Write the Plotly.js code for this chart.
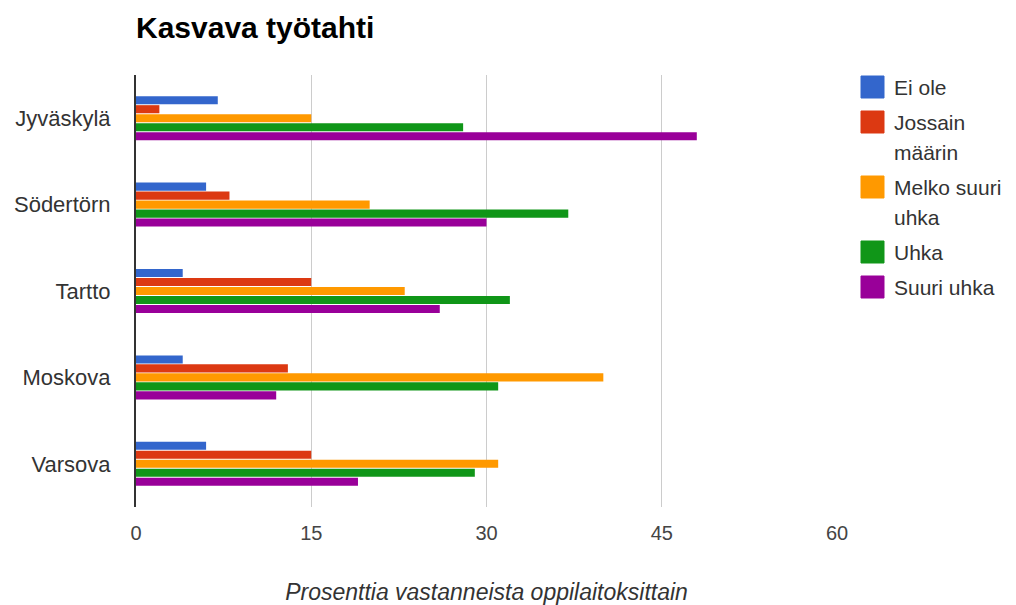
<!DOCTYPE html>
<html>
<head>
<meta charset="utf-8">
<script src="https://cdn.plot.ly/plotly-3.0.1.min.js"></script>
<style>
  body { margin: 0; background: #fff; }
  #chart { width: 1016px; height: 605px; }
</style>
</head>
<body>
<div id="chart"></div>
<script>
const cities = ['Jyväskylä', 'Södertörn', 'Tartto', 'Moskova', 'Varsova']
const seriesNames = ['Ei ole', 'Jossain määrin', 'Melko suuri uhka', 'Uhka', 'Suuri uhka']
const legendLines = [['Ei ole'], ['Jossain', 'määrin'], ['Melko suuri', 'uhka'], ['Uhka'], ['Suuri uhka']]
const colors = ['#3366cc', '#dc3912', '#ff9900', '#109618', '#990099']

const eiOle = [7, 6, 4, 4, 6]
const jossainMaarin = [2, 8, 15, 13, 15]
const melkoSuuri = [15, 20, 23, 40, 31]
const uhka = [28, 37, 32, 31, 29]
const suuriUhka = [48, 30, 26, 12, 19]

const xTicks = [0, 15, 30, 45, 60]

const values = [eiOle, jossainMaarin, melkoSuuri, uhka, suuriUhka]

const W = 1016, H = 605
const M = { l: 136, r: 179, t: 75, b: 98 }
const plotW = W - M.l - M.r
const plotH = H - M.t - M.b
const px = x => (x - M.l) / plotW
const py = y => (H - M.b - y) / plotH

const data = values.map((vals, i) => ({
  type: 'bar',
  orientation: 'h',
  name: seriesNames[i],
  x: vals,
  y: cities,
  marker: { color: colors[i], line: { width: 0 } },
  hoverinfo: 'x+y+name',
  showlegend: false,
}))

// legend drawn by hand, so the swatches can be the big squares of the original
const shapes = []
const annotations = []
let lineY = 87
legendLines.forEach((lines, i) => {
  shapes.push({
    type: 'rect', xref: 'paper', yref: 'paper',
    x0: px(861), x1: px(884), y0: py(lineY - 11), y1: py(lineY + 11),
    fillcolor: colors[i], line: { width: 1, color: colors[i] },
  })
  lines.forEach((txt, j) => {
    annotations.push({
      xref: 'paper', yref: 'paper', x: px(892), y: py(lineY + j * 30),
      xanchor: 'left', yanchor: 'middle', showarrow: false,
      text: txt, font: { size: 21, color: '#333' },
    })
  })
  lineY += (lines.length - 1) * 30 + 35
})

const layout = {
  width: W,
  height: H,
  margin: M,
  paper_bgcolor: '#fff',
  plot_bgcolor: '#fff',
  font: { family: 'Arial, "Liberation Sans", sans-serif', size: 20, color: '#333' },
  title: {
    text: '<b>Kasvava työtahti</b>',
    font: { size: 30, color: '#000' },
    x: 136 / W,
    xanchor: 'left',
    y: 1 - 27 / H,
    yanchor: 'middle',
  },
  barmode: 'group',
  bargap: 0.48,
  bargroupgap: 0.1,
  xaxis: {
    range: [0, 60],
    tickvals: xTicks,
    ticktext: xTicks.map(String),
    showgrid: true,
    gridcolor: '#cccccc',
    gridwidth: 1,
    zeroline: false,
    showline: false,
    ticks: '',
    ticklabelstandoff: 12,
    tickfont: { size: 20, color: '#444' },
    title: {
      text: '<i>Prosenttia vastanneista oppilaitoksittain</i>',
      font: { size: 23, color: '#333' },
      standoff: 40,
    },
    fixedrange: true,
  },
  yaxis: {
    autorange: 'reversed',
    showgrid: false,
    showline: true,
    linecolor: '#333',
    linewidth: 2,
    ticks: '',
    ticklabelstandoff: 19,
    tickfont: { size: 22, color: '#333' },
    fixedrange: true,
  },
  showlegend: false,
  shapes,
  annotations,
}

Plotly.newPlot('chart', data, layout, { displayModeBar: false, staticPlot: true })
</script>
</body>
</html>
